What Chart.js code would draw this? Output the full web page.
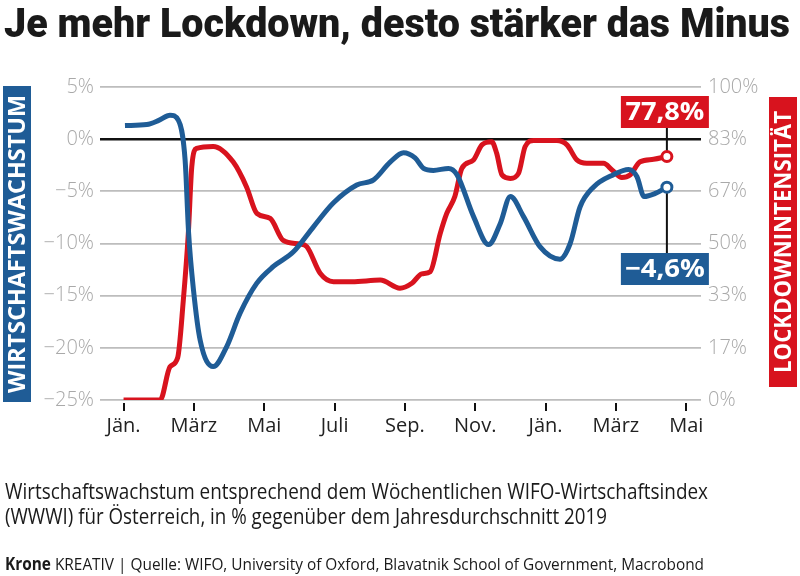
<!DOCTYPE html>
<html>
<head>
<meta charset="utf-8">
<script src="https://cdn.jsdelivr.net/npm/chart.js@4"></script>
<style>
html,body{margin:0;padding:0;background:#fff;}
#wrap{width:800px;height:576px;position:relative;}
</style>
</head>
<body>
<div id="wrap"><canvas id="c" width="800" height="576"></canvas></div>
<script>
// ---- data (x = months since Jan 2020) ----
const monthLabels = ['Jän.','März','Mai','Juli','Sep.','Nov.','Jän.','März','Mai'];
const monthTicks = [0,2,4,6,8,10,12,14,16];
const growthTicks = [-25,-20,-15,-10,-5,0,5];
const lockTicks = [0,100/6,200/6,50,400/6,500/6,100];

const growthMonths = [0.04,0.66,1.0,1.32,1.56,1.75,1.85,1.99,2.18,2.55,2.93,3.31,3.79,4.26,4.83,5.40,5.97,6.63,7.11,7.58,7.96,8.29,8.53,8.81,9.24,9.48,9.95,10.38,10.71,11.0,11.37,11.84,12.41,12.70,12.98,13.36,13.93,14.36,14.60,14.80,15.12,15.45];
const growthValues = [1.3,1.4,1.8,2.3,1.8,-2.0,-9.0,-14.5,-19.3,-21.8,-19.9,-16.7,-13.8,-12.2,-10.8,-8.4,-6.1,-4.4,-3.9,-2.2,-1.3,-1.8,-2.8,-3.0,-2.8,-3.4,-7.4,-10.1,-8.1,-5.5,-7.4,-10.3,-11.5,-10.0,-6.5,-4.6,-3.4,-2.9,-3.6,-5.5,-5.2,-4.6];

const lockMonths = [0,1.04,1.32,1.54,1.70,1.84,1.94,2.08,2.55,3.12,3.50,3.79,4.17,4.54,5.02,5.21,5.59,5.97,6.5,7.30,7.86,8.20,8.48,8.72,9.00,9.19,9.42,9.62,9.95,10.19,10.47,10.61,10.76,11.0,11.23,11.42,11.66,12.32,12.61,12.89,13.17,13.65,13.89,14.17,14.40,14.69,15.07,15.45];
const lockValues = [0,0,10.6,13.6,32,53,74.5,80.4,81,76,68,59.6,58,51,49.8,49,40.5,37.8,37.8,38.3,35.7,37.3,40.3,41,53,59.6,65,74,76.7,81.5,82.5,78.8,71.9,70.8,72.4,81,82.9,82.9,81.5,76.7,75.6,75.6,73.5,71.1,71.9,76.1,76.9,77.8];

const labelGrowth = '−4,6%';
const labelLock = '77,8%';

const BLUE = '#1f5c96';
const RED = '#d8131e';

function toPoints(xs, ys){ return xs.map((x,i)=>({x:x, y:ys[i]})); }

function fitText(ctx, text, x, y, width, align){
  const w = ctx.measureText(text).width;
  const s = width / w;
  ctx.save();
  ctx.translate(x, y);
  ctx.scale(s, 1);
  ctx.textAlign = align || 'left';
  ctx.fillText(text, 0, 0);
  ctx.restore();
}

const decor = {
  id: 'decor',
  beforeDatasetsDraw(chart){
    const ctx = chart.ctx;
    const xs = chart.scales.x, yl = chart.scales.y, yr = chart.scales.y2;
    const gi = growthMonths.length-1, li = lockMonths.length-1;
    const gx = xs.getPixelForValue(growthMonths[gi]), gy = yl.getPixelForValue(growthValues[gi]);
    const lx = xs.getPixelForValue(lockMonths[li]), ly = yr.getPixelForValue(lockValues[li]);
    ctx.save();
    ctx.strokeStyle = '#111';
    ctx.lineWidth = 2;
    ctx.beginPath();
    ctx.moveTo(lx, 120); ctx.lineTo(lx, ly);
    ctx.moveTo(gx, gy); ctx.lineTo(gx, 260);
    ctx.stroke();
    ctx.restore();
  },
  afterDraw(chart){
    const ctx = chart.ctx;
    const xs = chart.scales.x, yl = chart.scales.y, yr = chart.scales.y2;
    const gi = growthMonths.length-1, li = lockMonths.length-1;
    const gx = xs.getPixelForValue(growthMonths[gi]);
    const lx = xs.getPixelForValue(lockMonths[li]);
    ctx.save();
    // title
    ctx.fillStyle = '#1a1a1a';
    ctx.font = '900 41px Roboto';
    ctx.textBaseline = 'alphabetic';
    fitText(ctx, 'Je mehr Lockdown, desto stärker das Minus', 4, 37, 786);
    // side boxes
    ctx.fillStyle = BLUE;
    ctx.fillRect(3, 86, 28, 316);
    ctx.fillStyle = RED;
    ctx.fillRect(769, 97, 28, 290);
    ctx.fillStyle = '#fff';
    ctx.font = 'bold 23px "Open Sans"';
    ctx.textBaseline = 'middle';
    ctx.save(); ctx.translate(17.5, 244); ctx.rotate(-Math.PI/2);
    fitText(ctx, 'WIRTSCHAFTSWACHSTUM', 0, 1, 298, 'center');
    ctx.restore();
    ctx.save(); ctx.translate(783.5, 242); ctx.rotate(-Math.PI/2);
    fitText(ctx, 'LOCKDOWNINTENSITÄT', 0, 1, 262, 'center');
    ctx.restore();
    // value boxes
    ctx.fillStyle = RED;
    ctx.fillRect(lx-46, 96, 88, 32);
    ctx.fillStyle = BLUE;
    ctx.fillRect(gx-46, 253, 88, 32);
    ctx.fillStyle = '#fff';
    ctx.font = 'bold 25px "Open Sans"';
    ctx.textBaseline = 'middle';
    fitText(ctx, labelLock, lx-2, 113, 79, 'center');
    fitText(ctx, labelGrowth, gx-2, 270, 80, 'center');
    // footer
    ctx.fillStyle = '#1a1a1a';
    ctx.textBaseline = 'alphabetic';
    ctx.font = '21px "Open Sans"';
    fitText(ctx, 'Wirtschaftswachstum entsprechend dem Wöchentlichen WIFO-Wirtschaftsindex', 5, 499, 703);
    fitText(ctx, '(WWWI) für Österreich, in % gegenüber dem Jahresdurchschnitt 2019', 5, 524, 602);
    // source
    ctx.font = 'bold 17px "Open Sans"';
    const a = 'Krone';
    const wa = ctx.measureText(a).width;
    ctx.font = '17px "Open Sans"';
    const b = ' KREATIV | Quelle: WIFO, University of Oxford, Blavatnik School of Government, Macrobond';
    const wb = ctx.measureText(b).width;
    const s = 699 / (wa + wb);
    ctx.save();
    ctx.translate(5, 570);
    ctx.scale(s, 1);
    ctx.font = 'bold 17px "Open Sans"';
    ctx.fillText(a, 0, 0);
    ctx.font = '17px "Open Sans"';
    ctx.fillText(b, wa, 0);
    ctx.restore();
    ctx.restore();
  }
};

new Chart(document.getElementById('c'), {
  type: 'line',
  data: {
    datasets: [
      {
        label: 'Wirtschaftswachstum',
        data: toPoints(growthMonths, growthValues),
        yAxisID: 'y',
        borderColor: BLUE,
        borderWidth: 5,
        cubicInterpolationMode: 'monotone',
        pointRadius: (c) => c.dataIndex === growthMonths.length-1 ? 5 : 0,
        pointBorderWidth: 3,
        pointBackgroundColor: '#fff',
        pointBorderColor: BLUE,
        fill: false
      },
      {
        label: 'Lockdownintensität',
        data: toPoints(lockMonths, lockValues),
        yAxisID: 'y2',
        borderColor: RED,
        borderWidth: 5,
        cubicInterpolationMode: 'monotone',
        pointRadius: (c) => c.dataIndex === lockMonths.length-1 ? 5 : 0,
        pointBorderWidth: 3,
        pointBackgroundColor: '#fff',
        pointBorderColor: RED,
        fill: false
      }
    ]
  },
  options: {
    responsive: false,
    animation: false,
    devicePixelRatio: 1,
    layout: { padding: { top: 87, left: 0, right: 0, bottom: 0 } },
    plugins: { legend: { display: false }, tooltip: { enabled: false } },
    scales: {
      x: {
        type: 'linear',
        position: 'bottom',
        min: -0.67,
        max: 16.42,
        afterBuildTicks: (s) => { s.ticks = monthTicks.map(v => ({ value: v })); },
        afterFit: (s) => { s.height = 176; },
        border: { display: false },
        grid: {
          drawOnChartArea: false,
          drawTicks: true,
          tickLength: 11,
          color: '#111',
          lineWidth: 2,
          tickBorderDash: [0, 3, 8, 100]
        },
        ticks: {
          autoSkip: false,
          maxRotation: 0,
          padding: 3,
          color: '#222',
          font: { family: 'Open Sans', size: 20 },
          callback: (v) => { const i = monthTicks.indexOf(v); return i >= 0 ? monthLabels[i] : ''; }
        }
      },
      y: {
        position: 'left',
        min: -25,
        max: 5,
        afterBuildTicks: (s) => { s.ticks = growthTicks.map(v => ({ value: v })); },
        afterFit: (s) => { s.width = 100; },
        border: { display: false },
        grid: {
          drawTicks: false,
          color: (c) => (c.tick && c.tick.value === 0) ? '#111' : '#bdbdbd',
          lineWidth: (c) => (c.tick && c.tick.value === 0) ? 2.5 : 1.8
        },
        ticks: {
          padding: 6,
          color: '#a9a9a9',
          font: { family: 'Open Sans', size: 20, weight: 300 },
          callback: (v) => (v < 0 ? '−' + Math.abs(v) : String(v)) + '%'
        }
      },
      y2: {
        position: 'right',
        min: 0,
        max: 100,
        afterBuildTicks: (s) => { s.ticks = lockTicks.map(v => ({ value: v })); },
        afterFit: (s) => { s.width = 99; },
        border: { display: false },
        grid: { display: false, drawTicks: false },
        ticks: {
          padding: 7,
          color: '#a9a9a9',
          font: { family: 'Open Sans', size: 20, weight: 300 },
          callback: (v) => Math.round(v) + '%'
        }
      }
    }
  },
  plugins: [decor]
});
</script>
</body>
</html>
